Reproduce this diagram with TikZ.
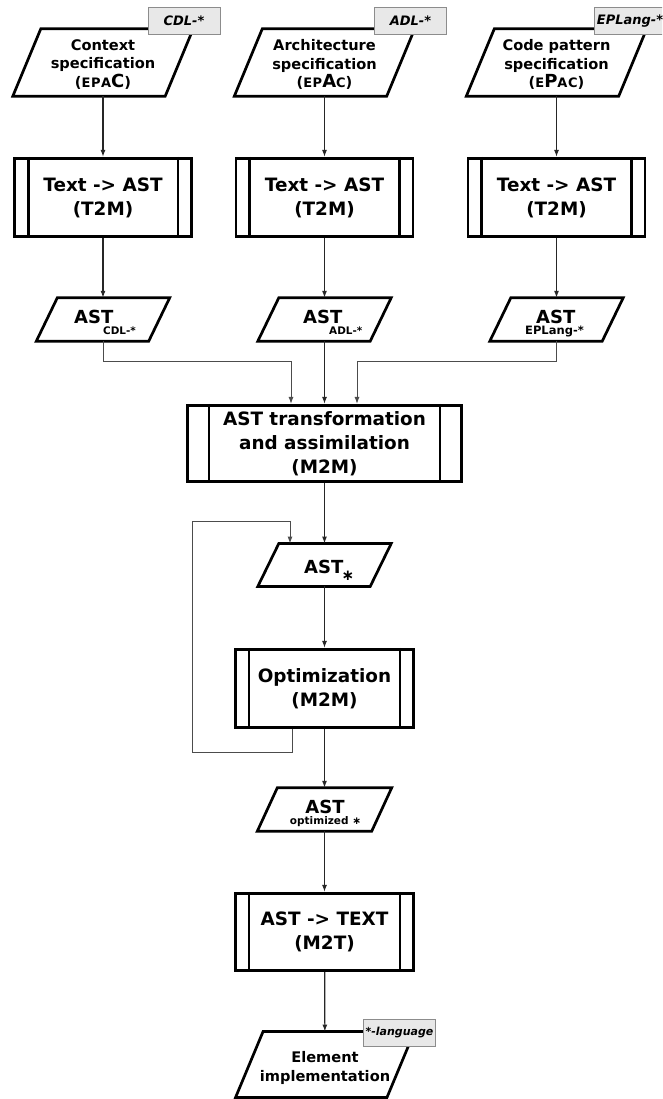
\documentclass[tikz,border=0pt]{standalone}
\usepackage{fontspec}
\setmainfont{DejaVu Sans}
\usetikzlibrary{arrows.meta}

\newcommand\setsz[2]{\fontsize{#1}{#2}\selectfont}
% parallelogram drawn on the corners of a named rectangle node
\newcommand\slanted[2]{\draw[outline] ([xshift=#2]#1.north west) -- ([xshift=#2]#1.north east) -- ([xshift=-#2]#1.south east) -- ([xshift=-#2]#1.south west) -- cycle;}
% double side bars of a predefined-process box
\newcommand\sidebars[2]{\draw[outline] ([xshift=#2]#1.north west) -- ([xshift=#2]#1.south west) ([xshift=-#2]#1.north east) -- ([xshift=-#2]#1.south east);}

\tikzset{
  outline/.style={line width=2.7pt, line join=miter, draw=black},
  ioshape/.style={inner sep=0pt, align=center, font=\bfseries\setsz{14.6}{18.5}},
  procbox/.style={outline, inner sep=0pt, align=center, font=\bfseries\setsz{18.4}{24.2}},
  tagbox/.style={draw=black!45, fill=black!9, line width=1pt, minimum width=72pt, minimum height=27pt, inner sep=0pt, font=\bfseries\itshape\setsz{13}{15}},
  asttext/.style={anchor=base west, inner sep=0pt, font=\bfseries\setsz{18}{20}},
  subtext/.style={anchor=base west, inner sep=0pt, font=\bfseries\setsz{10.4}{12}},
  arr/.style={draw=black!85, line width=1.2pt, -{Latex[length=7pt,width=5pt]}},
  conn/.style={arr, draw=black!70, line width=1pt},
}

\begin{document}
\begin{tikzpicture}[x=1pt,y=-1pt]
\useasboundingbox (0,0) rectangle (662,1099);
\clip (0,0) rectangle (662,1099);
\fill[white] (0,0) rectangle (662,1099);

% ---- input specifications ----
\node[inner sep=0pt, minimum width=152pt, minimum height=67pt] (spec1) at (103,62.5) {};
\node[inner sep=0pt, minimum width=152pt, minimum height=67pt] (spec2) at (324.5,62.5) {};
\node[inner sep=0pt, minimum width=152pt, minimum height=67pt] (spec3) at (556.5,62.5) {};
\slanted{spec1}{14pt}
\slanted{spec2}{14pt}
\slanted{spec3}{14pt}
\node[ioshape] (spec1t) at (103,64.5)
  {Context\\specification\\({\setsz{13}{15}E\kern.6pt P\kern.6pt A}{\setsz{18}{19}C})};
\node[ioshape] (spec2t) at (324.5,64.5)
  {Architecture\\specification\\({\setsz{13}{15}E\kern.6pt P}{\setsz{18}{19}A}{\setsz{13}{15}C})};
\node[ioshape] (spec3t) at (556.5,64.5)
  {Code pattern\\specification\\({\setsz{13}{15}E}{\setsz{18}{19}P}{\setsz{13}{15}A\kern.6pt C})};

\node[tagbox] (tag1) at (184,21) {CDL-*};
\node[tagbox] (tag2) at (410.5,21) {ADL-*};
\node[tagbox] (tag3) at (630,21) {EPLang-*};

% ---- parsers ----
\node[procbox, minimum width=177pt, minimum height=78.5pt] (t2m1) at (103,197.5) {Text -> AST\\(T2M)};
\node[procbox, minimum width=177pt, minimum height=78.5pt] (t2m2) at (324.5,197.5) {Text -> AST\\(T2M)};
\node[procbox, minimum width=177pt, minimum height=78.5pt] (t2m3) at (556.5,197.5) {Text -> AST\\(T2M)};
\sidebars{t2m1}{15pt}
\sidebars{t2m2}{15pt}
\sidebars{t2m3}{15pt}

% ---- per-language syntax trees ----
\node[inner sep=0pt, minimum width=112pt, minimum height=43pt] (ast1) at (103,319.5) {};
\node[inner sep=0pt, minimum width=112pt, minimum height=43pt] (ast2) at (324.5,319.5) {};
\node[inner sep=0pt, minimum width=112pt, minimum height=43pt] (ast3) at (556.5,319.5) {};
\slanted{ast1}{10.5pt}
\slanted{ast2}{10.5pt}
\slanted{ast3}{10.5pt}
\node[asttext] (ast1t) at (74,323) {AST};
\node[subtext] (ast1s) at (103,334) {CDL-*};
\node[asttext] (ast2t) at (303,323) {AST};
\node[subtext] (ast2s) at (329,334) {ADL-*};
\node[asttext] (ast3t) at (536,323) {AST};
\node[subtext, font=\bfseries\setsz{11.5}{13}] (ast3s) at (525,334) {EPLang-*};

% ---- transformation ----
\node[procbox, minimum width=273.5pt, minimum height=76.5pt] (m2m) at (324.5,443.5)
  {AST transformation\\and assimilation\\(M2M)};
\sidebars{m2m}{22.5pt}

\node[inner sep=0pt, minimum width=112pt, minimum height=42.5pt] (astst) at (324.5,565) {};
\slanted{astst}{10.5pt}
\node[asttext] (aststt) at (304,573) {AST};
\node[inner sep=0pt, font=\bfseries\setsz{15}{16}] (aststs) at (348,576) {∗};

\node[procbox, minimum width=178.5pt, minimum height=78.5pt] (opt) at (324.5,688.5) {Optimization\\(M2M)};
\sidebars{opt}{15pt}

\node[inner sep=0pt, minimum width=114pt, minimum height=43pt] (astop) at (324.5,809.5) {};
\slanted{astop}{10pt}
\node[asttext, anchor=base] (astopt) at (325,813) {AST};
\node[inner sep=0pt, anchor=base, font=\bfseries\setsz{10.5}{12}] (astops) at (325.5,824.5) {optimized ∗};

\node[procbox, minimum width=178.5pt, minimum height=77.5pt] (m2t) at (324.5,932) {AST -> TEXT\\(M2T)};
\sidebars{m2t}{15pt}

\node[inner sep=0pt, minimum width=151pt, minimum height=65.5pt] (elem) at (325,1064.5) {};
\slanted{elem}{13.75pt}
\node[ioshape] (elemt) at (325,1068) {Element\\implementation};
\node[tagbox, font=\bfseries\itshape\setsz{11}{13}] (tag4) at (399.5,1032.5) {*-language};

% ---- connectors ----
\draw[arr] (spec1) -- (t2m1);
\draw[arr] (spec2) -- (t2m2);
\draw[arr] (spec3) -- (t2m3);
\draw[arr] (t2m1) -- (ast1);
\draw[arr] (t2m2) -- (ast2);
\draw[arr] (t2m3) -- (ast3);

\coordinate (j1) at (291,361);
\coordinate (j3) at (357,361);
\draw[conn] (ast1) |- (j1) -- (j1 |- m2m.north);
\draw[arr] (ast2) -- (m2m);
\draw[conn] (ast3) |- (j3) -- (j3 |- m2m.north);

\draw[arr] (m2m) -- (astst);
\draw[arr] (astst) -- (opt);
\coordinate (fbA) at (192,752);
\coordinate (fbB) at (192,521);
\draw[conn] ([xshift=-32.5pt]opt.south) |- (fbA) -- (fbB) -| ([xshift=-34.5pt]astst.north);
\draw[arr] (opt) -- (astop);
\draw[arr] (astop) -- (m2t);
\draw[arr] (m2t) -- (elem);
\end{tikzpicture}
\end{document}
